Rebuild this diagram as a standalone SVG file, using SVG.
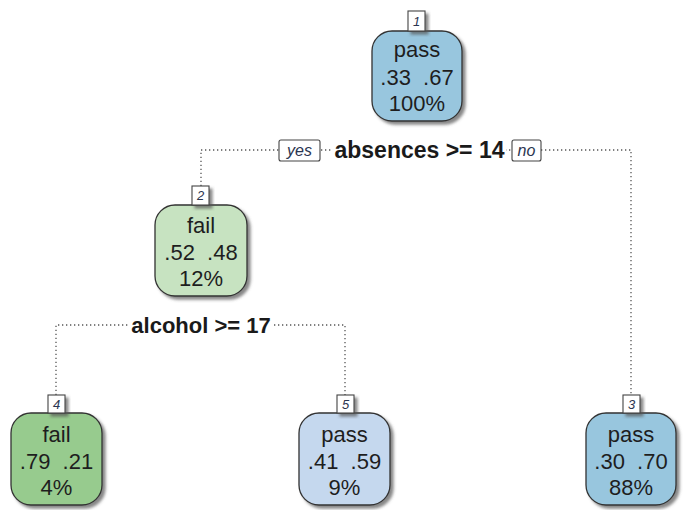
<svg xmlns="http://www.w3.org/2000/svg" width="683" height="510" viewBox="0 0 683 510">
<defs>
<filter id="sh" x="-20%" y="-20%" width="150%" height="150%">
<feDropShadow dx="3" dy="3" stdDeviation="1.8" flood-color="#555" flood-opacity="0.7"/>
</filter>
<style>
.box{stroke:#333;stroke-width:1.3;filter:url(#sh)}
.lab{fill:#fff;stroke:#444;stroke-width:1.1;filter:url(#sh)}
.labt{font-family:"Liberation Sans",Arial,sans-serif;font-size:13px;font-style:italic;fill:#2b3550;text-anchor:middle}
.nt{font-family:"Liberation Sans",Arial,sans-serif;font-size:22px;fill:#1e1e1e;text-anchor:middle}
.split{font-family:"Liberation Sans",Arial,sans-serif;font-size:22px;font-weight:bold;fill:#1a1a1a;text-anchor:middle}
.yn{fill:#fff;stroke:#444;stroke-width:1.1}
.ynt{font-family:"Liberation Sans",Arial,sans-serif;font-size:16px;font-style:italic;fill:#2b3550;text-anchor:middle}
.con{fill:none;stroke:#555;stroke-width:1.3;stroke-dasharray:1.3 2.7}
.bg{fill:#fff}
</style>
</defs>
<rect width="683" height="510" fill="#fff"/>
<g id="connectors">
<path class="con" d="M201,186 V150 H631 V395"/>
<path class="con" d="M56,395 V325 H345 V395"/>
</g>
<g id="split1">
<rect class="bg" x="333" y="139" width="173" height="23"/>
<text class="split" x="419.5" y="158" style="font-size:23px">absences &gt;= 14</text>
<rect class="yn" x="279" y="140" width="41" height="21" rx="2"/>
<text class="ynt" x="299.5" y="156">yes</text>
<rect class="yn" x="512" y="140" width="29" height="21" rx="2"/>
<text class="ynt" x="526.5" y="156">no</text>
</g>
<g id="split2">
<rect class="bg" x="130" y="314" width="142" height="22"/>
<text class="split" x="201" y="333">alcohol &gt;= 17</text>
</g>
<g id="node1">
<rect class="box" x="372" y="31" width="90" height="90" rx="20" fill="#98C6DE"/>
<rect class="lab" x="408" y="11" width="17" height="20"/>
<text class="labt" x="416.5" y="26">1</text>
<text class="nt" x="417" y="57">pass</text>
<text class="nt" x="417" y="85" xml:space="preserve">.33  .67</text>
<text class="nt" x="417" y="111">100%</text>
</g>
<g id="node2">
<rect class="box" x="155" y="205" width="92" height="91" rx="20" fill="#C7E3C1"/>
<rect class="lab" x="192" y="186" width="17" height="19"/>
<text class="labt" x="200.5" y="200">2</text>
<text class="nt" x="201" y="233">fail</text>
<text class="nt" x="201" y="260" xml:space="preserve">.52  .48</text>
<text class="nt" x="201" y="286">12%</text>
</g>
<g id="node4">
<rect class="box" x="11" y="413" width="91" height="92" rx="20" fill="#97CB8E"/>
<rect class="lab" x="48" y="395" width="17" height="18"/>
<text class="labt" x="56.5" y="409">4</text>
<text class="nt" x="56.5" y="442">fail</text>
<text class="nt" x="56.5" y="469" xml:space="preserve">.79  .21</text>
<text class="nt" x="56.5" y="495">4%</text>
</g>
<g id="node5">
<rect class="box" x="299" y="413" width="91" height="92" rx="20" fill="#C5D8EE"/>
<rect class="lab" x="337" y="395" width="17" height="18"/>
<text class="labt" x="345.5" y="409">5</text>
<text class="nt" x="344.5" y="442">pass</text>
<text class="nt" x="344.5" y="469" xml:space="preserve">.41  .59</text>
<text class="nt" x="344.5" y="495">9%</text>
</g>
<g id="node3">
<rect class="box" x="586" y="413" width="90" height="92" rx="20" fill="#98C6DE"/>
<rect class="lab" x="623" y="395" width="17" height="18"/>
<text class="labt" x="631.5" y="409">3</text>
<text class="nt" x="631" y="442">pass</text>
<text class="nt" x="631" y="469" xml:space="preserve">.30  .70</text>
<text class="nt" x="631" y="495">88%</text>
</g>
</svg>
